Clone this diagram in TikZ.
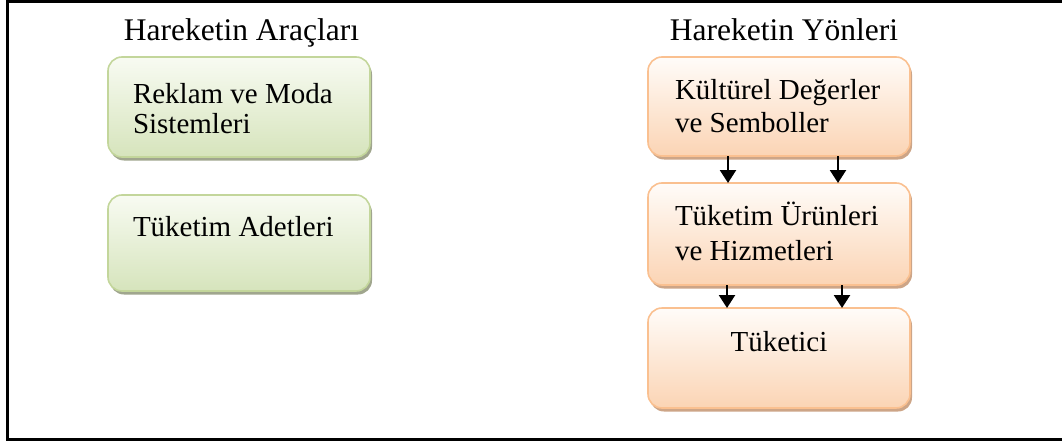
\documentclass[tikz,border=0pt]{standalone}
\usepackage{fontspec}
\setmainfont{Liberation Serif}
\usetikzlibrary{shadows,arrows.meta}

\definecolor{gborder}{RGB}{195,214,155}
\definecolor{gtop}{RGB}{248,251,242}
\definecolor{gbot}{RGB}{214,228,188}
\definecolor{gshadow}{RGB}{160,166,142}
\definecolor{oborder}{RGB}{250,192,144}
\definecolor{otop}{RGB}{255,252,249}
\definecolor{obot}{RGB}{251,212,180}
\definecolor{oshadow}{RGB}{205,165,135}

\tikzset{
  every node/.style={inner sep=0pt, outer sep=0pt},
  boxbase/.style={line width=1.6pt, rounded corners=14pt, anchor=north west,
    minimum width=262pt},
  gbox/.style={boxbase, draw=gborder, top color=gtop, bottom color=gbot,
    drop shadow={shadow xshift=2pt, shadow yshift=-3.5pt, fill=gshadow, opacity=1}},
  obox/.style={boxbase, draw=oborder, top color=otop, bottom color=obot,
    drop shadow={shadow xshift=2pt, shadow yshift=-3.5pt, fill=oshadow, opacity=1}},
  boxtext/.style={font=\fontsize{29}{29}\selectfont, text=black},
  titletext/.style={font=\fontsize{31.5}{31.5}\selectfont, text=black, anchor=base},
  flow/.style={line width=2.4pt, -{Triangle[length=13pt,width=16pt]}},
}

\begin{document}
\begin{tikzpicture}[x=1pt,y=-1pt]
  \useasboundingbox (0,0) rectangle (1062,441);
  \clip (0,0) rectangle (1062,441);

  % outer frame
  \draw[line width=2.2pt] (7.5,1.5) rectangle (1070,439.5);

  % column titles
  \node[titletext] (ttl1) at (241.5,41) {Hareketin Araçları};
  \node[titletext] (ttl2) at (784,41) {Hareketin Yönleri};

  % left column: tools
  \node[gbox, minimum height=100pt] (g1) at (108,57) {};
  \node[boxtext, anchor=base west] (g1a) at (133,104) {Reklam ve Moda};
  \node[boxtext, anchor=base west] (g1b) at (133,134) {Sistemleri};

  \node[gbox, minimum height=96pt] (g2) at (108,195) {};
  \node[boxtext, anchor=base west] (g2a) at (133,236) {Tüketim Adetleri};

  % right column: directions
  \node[obox, minimum height=99pt] (o1) at (648,57) {};
  \node[boxtext, anchor=base west] (o1a) at (675,100) {Kültürel Değerler};
  \node[boxtext, anchor=base west] (o1b) at (675,132) {ve Semboller};

  \node[obox, minimum height=102pt] (o2) at (648,183) {};
  \node[boxtext, anchor=base west] (o2a) at (675,225) {Tüketim Ürünleri};
  \node[boxtext, anchor=base west] (o2b) at (675,260) {ve Hizmetleri};

  \node[obox, minimum height=100pt] (o3) at (648,308) {};
  \node[boxtext, anchor=base] (o3a) at (779,351) {Tüketici};

  % arrow columns
  \coordinate (ca) at (728,0);
  \coordinate (cb) at (838,0);
  \coordinate (cc) at (727,0);
  \coordinate (cd) at (842,0);

  \draw[flow] (o1.south -| ca) -- (o2.north -| ca);
  \draw[flow] (o1.south -| cb) -- (o2.north -| cb);
  \draw[flow] (o2.south -| cc) -- (o3.north -| cc);
  \draw[flow] (o2.south -| cd) -- (o3.north -| cd);
\end{tikzpicture}
\end{document}
